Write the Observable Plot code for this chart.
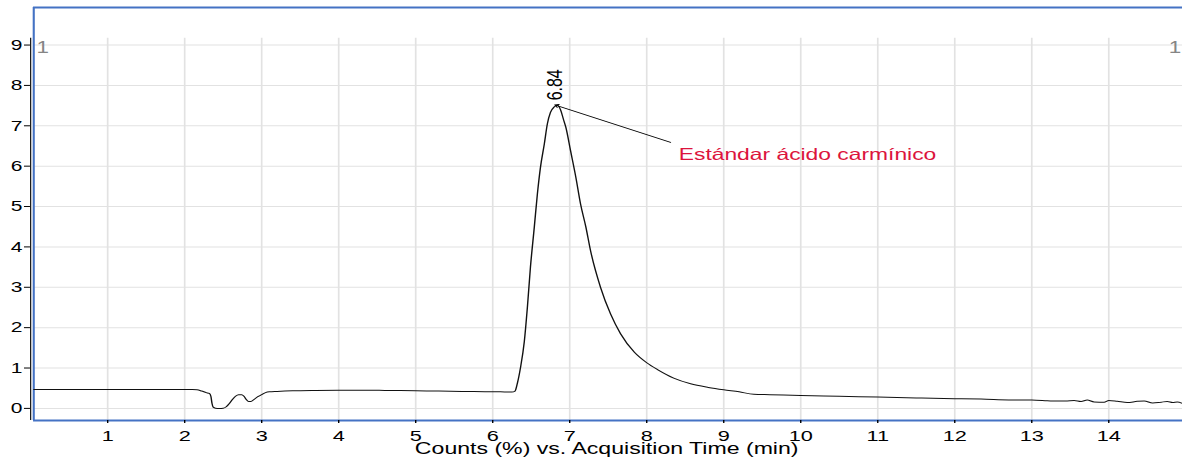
<!DOCTYPE html>
<html>
<head>
<meta charset="utf-8">
<script src="https://cdn.jsdelivr.net/npm/d3@7"></script>
<script src="https://cdn.jsdelivr.net/npm/@observablehq/plot@0.6"></script>
<style>
  html, body { margin: 0; padding: 0; background: white; }
  #chart { width: 1182px; height: 458px; overflow: hidden; }
</style>
</head>
<body>
<div id="chart"></div>
<script>
// ---- data ----
const time = [
  0.04, 0.3, 0.6, 0.9, 1.2, 1.5, 1.8, 2.1, 2.16, 2.22, 2.28, 2.32, 2.34, 2.355, 2.37, 2.4, 2.45, 2.5,
  2.54, 2.58, 2.62, 2.66, 2.7, 2.74, 2.77, 2.8, 2.83, 2.86, 2.9, 2.95, 3.0, 3.05, 3.1, 3.2, 3.4, 3.7,
  4.0, 4.3, 4.6, 5.0, 5.3, 5.6, 5.9, 6.1, 6.25, 6.29, 6.32, 6.36, 6.41, 6.45, 6.49, 6.54, 6.58, 6.62,
  6.67, 6.71, 6.75, 6.8, 6.84, 6.88, 6.92, 6.95, 7.01, 7.08, 7.14, 7.21, 7.27, 7.4, 7.53, 7.66, 7.84,
  8.0, 8.14, 8.35, 8.57, 8.8, 9.0, 9.2, 9.39, 9.6, 10.0, 10.5, 11.0, 11.5, 12.0, 12.34, 12.7, 13.0,
  13.2, 13.33, 13.46, 13.55, 13.64, 13.72, 13.81, 13.94, 14.0, 14.11, 14.24, 14.37, 14.46, 14.57,
  14.68, 14.76, 14.83, 14.89, 14.96
];
const counts = [
  0.47, 0.465, 0.47, 0.465, 0.47, 0.465, 0.465, 0.465, 0.46, 0.43, 0.39, 0.37, 0.3, 0.12, 0.03, 0.005, 0.0, 0.005,
  0.04, 0.12, 0.22, 0.3, 0.34, 0.34, 0.3, 0.22, 0.17, 0.17, 0.22, 0.29, 0.34, 0.39, 0.41, 0.42, 0.435, 0.445,
  0.45, 0.45, 0.445, 0.435, 0.43, 0.42, 0.415, 0.41, 0.405, 0.43, 0.62, 1.0, 1.65, 2.5, 3.5, 4.49, 5.31, 5.97,
  6.55, 7.05, 7.33, 7.47, 7.51, 7.4, 7.15, 6.96, 6.39, 5.72, 5.07, 4.49, 3.91, 3.0, 2.34, 1.85, 1.39,
  1.13, 0.96, 0.75, 0.61, 0.52, 0.46, 0.41, 0.35, 0.34, 0.32, 0.3, 0.28, 0.26, 0.24, 0.23, 0.21, 0.205,
  0.19, 0.18, 0.185, 0.195, 0.17, 0.205, 0.16, 0.155, 0.195, 0.175, 0.145, 0.175, 0.185, 0.135,
  0.155, 0.17, 0.145, 0.16, 0.12
];
const xTicks = [1, 2, 3, 4, 5, 6, 7, 8, 9, 10, 11, 12, 13, 14];
const yTicks = [0, 1, 2, 3, 4, 5, 6, 7, 8, 9];
const xDomain = [0, 14.96];
const yDomain = [-0.3, 9.93];
const xLabel = "Counts (%) vs. Acquisition Time (min)";
const peakTimes = [6.84];
const peakLabelLevel = [7.63];
const annotationText = ["Estándar ácido carmínico"];
const annotationAt = [{t: 8.416, v: 6.29}];
const arrowSeg = [{t1: 8.31, v1: 6.59, t2: 6.805, v2: 7.52}];
const cornerLabels = [{t: 0.156, v: 8.94, s: "1", a: "start"}, {t: 14.86, v: 8.94, s: "1", a: "end"}];

// ---- layout: the reference is horizontally stretched, so draw narrow and stretch ----
const W = 844, H = 458, OUT_W = 1182;
const blue = "#4472c4";
const grid = "#e2e2e2";

const plot = Plot.plot({
  width: W,
  height: H,
  marginLeft: 21.4,
  marginRight: 0,
  marginTop: 7,
  marginBottom: 38,
  x: {domain: xDomain, label: null},
  y: {domain: yDomain, label: null},
  style: {fontFamily: "'Liberation Sans', Arial, sans-serif", fontSize: "15px", background: "white", color: "black"},
  marks: [
    Plot.ruleY(yTicks, {x1: 0.04, x2: xDomain[1], stroke: grid, strokeWidth: 1}),
    Plot.ruleX(xTicks, {y1: yDomain[0], y2: 9.17, stroke: grid, strokeWidth: 1.2}),
    Plot.ruleX([0], {y1: yDomain[0], y2: 9.17, stroke: "black", strokeWidth: 0.8}),
    Plot.ruleX([0.04], {y1: yDomain[0], y2: yDomain[1], stroke: blue, strokeWidth: 1.5}),
    Plot.ruleY([yDomain[1]], {x1: 0.04, x2: xDomain[1], stroke: blue, strokeWidth: 2}),
    Plot.ruleY([yDomain[0]], {x1: 0.04, x2: xDomain[1], stroke: blue, strokeWidth: 2}),
    Plot.axisX({ticks: xTicks, anchor: "bottom", tickSize: 3, tickPadding: 6, fontSize: 15.5, label: null, tickFormat: d => String(d)}),
    Plot.axisY({ticks: yTicks, anchor: "left", tickSize: 4.3, tickPadding: 1.5, fontSize: 15, label: null, tickFormat: d => String(d)}),
    Plot.line(time, {x: time, y: counts, stroke: "#111", strokeWidth: 1, curve: "monotone-x"}),
    Plot.text(peakTimes, {x: d => d, y: (d, i) => peakLabelLevel[i], text: d => d.toFixed(2), rotate: -90, textAnchor: "start", lineAnchor: "middle", dx: -1.9, fontSize: 16, fill: "black"}),
    Plot.arrow(arrowSeg, {x1: "t1", y1: "v1", x2: "t2", y2: "v2", stroke: "black", strokeWidth: 0.8, headLength: 6, bend: 0}),
    Plot.text(annotationAt, {x: "t", y: "v", text: (d, i) => annotationText[i], textAnchor: "start", lineAnchor: "middle", fontSize: 16.3, fill: "#dc143c"}),
    Plot.text(cornerLabels, {x: "t", y: "v", text: "s", textAnchor: d => d.a, lineAnchor: "middle", fontSize: 16, fill: "#858585"}),
    Plot.text([xLabel], {frameAnchor: "bottom", text: d => d, dy: 28, lineAnchor: "middle", fontSize: 16.5, fill: "black"})
  ]
});

plot.setAttribute("width", OUT_W);
plot.setAttribute("height", H);
plot.setAttribute("preserveAspectRatio", "none");
plot.style.width = OUT_W + "px";
plot.style.height = H + "px";
plot.style.maxWidth = "none";
document.getElementById("chart").appendChild(plot);
</script>
</body>
</html>
